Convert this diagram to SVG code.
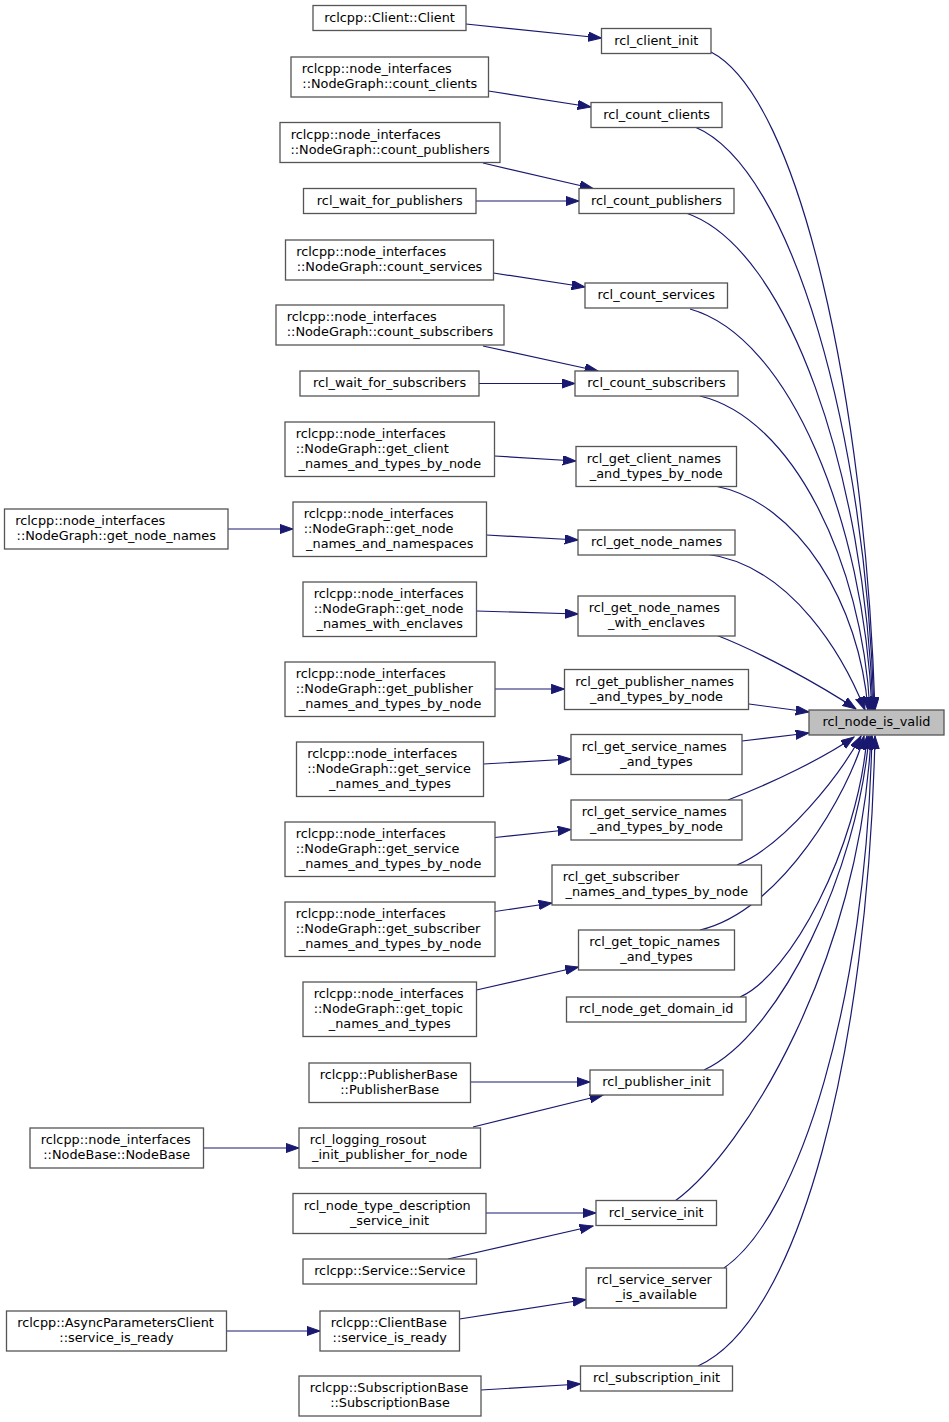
<svg xmlns="http://www.w3.org/2000/svg" width="949" height="1422" viewBox="0 0 949 1422">
<style>
.n rect{fill:#ffffff;stroke:#555555;stroke-width:1.3}
.t rect{fill:#bfbfbf;stroke:#555555;stroke-width:1.3}
text{font-family:"DejaVu Sans","Liberation Sans",sans-serif;font-size:12.85px;fill:#000000}
.c{text-anchor:middle}
.s{text-anchor:start}
.e path{fill:none;stroke:#191970;stroke-width:1.2;marker-end:url(#ah)}
</style>
<defs>
<marker id="ah" markerUnits="userSpaceOnUse" markerWidth="14" markerHeight="10" refX="13.3" refY="4.67" orient="auto">
<path d="M0,0 L13.3,4.67 L0,9.33 Z" fill="#191970" stroke="#191970" stroke-width="1"/>
</marker>
</defs>
<rect width="949" height="1422" fill="#ffffff"/>
<g class="e" id="edges">
<path d="M466,24 L601.5,38"/>
<path d="M488.5,91 L591,107"/>
<path d="M483,163 L593,188.5"/>
<path d="M476,201 L579,201"/>
<path d="M493.5,273 L585,287"/>
<path d="M483,346 L598,371"/>
<path d="M479,383.5 L575,383.5"/>
<path d="M494.5,456 L576,461"/>
<path d="M228,529 L293,529"/>
<path d="M486.5,535 L578,540"/>
<path d="M476.5,611 L578,614"/>
<path d="M495,689 L564.5,689"/>
<path d="M483.5,764 L571,759"/>
<path d="M495,837.5 L571,829.5"/>
<path d="M495,911.5 L552,903"/>
<path d="M476.5,990 L578.5,967"/>
<path d="M470.5,1082 L590,1082"/>
<path d="M473,1127 L603,1095"/>
<path d="M203.5,1148 L299,1148"/>
<path d="M486,1213 L596,1213"/>
<path d="M448,1259 L593,1226"/>
<path d="M459.5,1319 L586,1299.5"/>
<path d="M226.5,1331 L320,1331"/>
<path d="M481,1390 L580.5,1384"/>
<path d="M711,52 C800,98 865,400 875,710"/>
<path d="M695,127 C793,168 866,436 874,710"/>
<path d="M686,213 C789,248 865,476 873,710"/>
<path d="M690,309 C790,337 864,522 872,710"/>
<path d="M700,396 C793,418 862,562 870,710"/>
<path d="M715,486 C799,502 860,605 868,710"/>
<path d="M706,554 C793,565 845,660 865,710"/>
<path d="M716,635 C760,652 820,685 856,709"/>
<path d="M749,704 L809,712"/>
<path d="M742,741 L809,733"/>
<path d="M728,800 C775,782 825,757 854,737"/>
<path d="M737,865 C785,845 840,775 861,736"/>
<path d="M700,930 C782,911 850,790 864,736"/>
<path d="M740,997 C790,975 858,850 867,736"/>
<path d="M704,1070 C780,1035 858,870 869,736"/>
<path d="M675,1201 C745,1150 860,960 871,736"/>
<path d="M724,1268 C800,1215 866,1000 872,736"/>
<path d="M698,1366 C800,1320 868,1050 875,736"/>
</g>
<g transform="translate(0,-0.8)">
<g class="t" id="rcl_node_is_valid"><rect x="809" y="710.8" width="135" height="25"/><text class="c" x="876.5" y="727">rcl_node_is_valid</text></g>
</g>
<g class="n" id="rcl_client_init"><rect x="601.5" y="28.5" width="109.5" height="25"/><text class="c" x="656.25" y="44.7">rcl_client_init</text></g>
<g class="n" id="rcl_count_clients"><rect x="591" y="102.5" width="131" height="25"/><text class="c" x="656.5" y="118.7">rcl_count_clients</text></g>
<g class="n" id="rcl_count_publishers"><rect x="579" y="188.5" width="155" height="25"/><text class="c" x="656.5" y="204.7">rcl_count_publishers</text></g>
<g class="n" id="rcl_count_services"><rect x="585" y="283" width="142.5" height="25"/><text class="c" x="656.25" y="299.2">rcl_count_services</text></g>
<g class="n" id="rcl_count_subscribers"><rect x="575" y="371" width="163" height="25"/><text class="c" x="656.5" y="387.2">rcl_count_subscribers</text></g>
<g class="n" id="rcl_get_client_names_and_types_by_node"><rect x="576" y="446.5" width="160.5" height="40"/><text class="s" x="586.7" y="462.9">rcl_get_client_names</text><text class="c" x="656.25" y="477.5">_and_types_by_node</text></g>
<g class="n" id="rcl_get_node_names"><rect x="578" y="530" width="157" height="25"/><text class="c" x="656.5" y="546.2">rcl_get_node_names</text></g>
<g class="n" id="rcl_get_node_names_with_enclaves"><rect x="578" y="596" width="157" height="40"/><text class="s" x="588.7" y="612.4">rcl_get_node_names</text><text class="c" x="656.5" y="627">_with_enclaves</text></g>
<g class="n" id="rcl_get_publisher_names_and_types_by_node"><rect x="564.5" y="669.5" width="184" height="40"/><text class="s" x="575.2" y="685.9">rcl_get_publisher_names</text><text class="c" x="656.5" y="700.5">_and_types_by_node</text></g>
<g class="n" id="rcl_get_service_names_and_types"><rect x="571" y="734.5" width="171" height="40"/><text class="s" x="581.7" y="750.9">rcl_get_service_names</text><text class="c" x="656.5" y="765.5">_and_types</text></g>
<g class="n" id="rcl_get_service_names_and_types_by_node"><rect x="571" y="800" width="171" height="40"/><text class="s" x="581.7" y="816.4">rcl_get_service_names</text><text class="c" x="656.5" y="831">_and_types_by_node</text></g>
<g class="n" id="rcl_get_subscriber_names_and_types_by_node"><rect x="552" y="865" width="209.5" height="40"/><text class="s" x="562.7" y="881.4">rcl_get_subscriber</text><text class="c" x="656.75" y="896">_names_and_types_by_node</text></g>
<g class="n" id="rcl_get_topic_names_and_types"><rect x="578.5" y="930" width="156" height="40"/><text class="s" x="589.2" y="946.4">rcl_get_topic_names</text><text class="c" x="656.5" y="961">_and_types</text></g>
<g class="n" id="rcl_node_get_domain_id"><rect x="566.5" y="997" width="179.5" height="25"/><text class="c" x="656.25" y="1013.2">rcl_node_get_domain_id</text></g>
<g class="n" id="rcl_publisher_init"><rect x="590" y="1070" width="133" height="25"/><text class="c" x="656.5" y="1086.2">rcl_publisher_init</text></g>
<g class="n" id="rcl_service_init"><rect x="596" y="1200.5" width="120.5" height="25"/><text class="c" x="656.25" y="1216.7">rcl_service_init</text></g>
<g class="n" id="rcl_service_server_is_available"><rect x="586" y="1268" width="140.5" height="40"/><text class="s" x="596.7" y="1284.4">rcl_service_server</text><text class="c" x="656.25" y="1299">_is_available</text></g>
<g class="n" id="rcl_subscription_init"><rect x="580.5" y="1366" width="152" height="25"/><text class="c" x="656.5" y="1382.2">rcl_subscription_init</text></g>
<g class="n" id="Client_Client"><rect x="313" y="5.5" width="153" height="25"/><text class="c" x="389.5" y="21.7">rclcpp::Client::Client</text></g>
<g class="n" id="NodeGraph_count_clients"><rect x="291" y="57" width="197.5" height="40"/><text class="s" x="301.7" y="73.4">rclcpp::node_interfaces</text><text class="c" x="389.75" y="88">::NodeGraph::count_clients</text></g>
<g class="n" id="NodeGraph_count_publishers"><rect x="280" y="122.5" width="220" height="40"/><text class="s" x="290.7" y="138.9">rclcpp::node_interfaces</text><text class="c" x="390" y="153.5">::NodeGraph::count_publishers</text></g>
<g class="n" id="rcl_wait_for_publishers"><rect x="303.5" y="188.5" width="172.5" height="25"/><text class="c" x="389.75" y="204.7">rcl_wait_for_publishers</text></g>
<g class="n" id="NodeGraph_count_services"><rect x="285.5" y="240" width="208" height="40"/><text class="s" x="296.2" y="256.4">rclcpp::node_interfaces</text><text class="c" x="389.5" y="271">::NodeGraph::count_services</text></g>
<g class="n" id="NodeGraph_count_subscribers"><rect x="276" y="305" width="228" height="40"/><text class="s" x="286.7" y="321.4">rclcpp::node_interfaces</text><text class="c" x="390" y="336">::NodeGraph::count_subscribers</text></g>
<g class="n" id="rcl_wait_for_subscribers"><rect x="300" y="371" width="179" height="25"/><text class="c" x="389.5" y="387.2">rcl_wait_for_subscribers</text></g>
<g class="n" id="NodeGraph_get_client_names"><rect x="285" y="422" width="209.5" height="54.5"/><text class="s" x="295.7" y="438.3">rclcpp::node_interfaces</text><text class="s" x="295.7" y="452.95">::NodeGraph::get_client</text><text class="c" x="389.75" y="467.6">_names_and_types_by_node</text></g>
<g class="n" id="NodeGraph_get_node_names_and_namespaces"><rect x="293" y="502" width="193.5" height="54.5"/><text class="s" x="303.7" y="518.3">rclcpp::node_interfaces</text><text class="s" x="303.7" y="532.95">::NodeGraph::get_node</text><text class="c" x="389.75" y="547.6">_names_and_namespaces</text></g>
<g class="n" id="NodeGraph_get_node_names_with_enclaves"><rect x="303" y="582" width="173.5" height="54.5"/><text class="s" x="313.7" y="598.3">rclcpp::node_interfaces</text><text class="s" x="313.7" y="612.95">::NodeGraph::get_node</text><text class="c" x="389.75" y="627.6">_names_with_enclaves</text></g>
<g class="n" id="NodeGraph_get_publisher"><rect x="285" y="662" width="210" height="54.5"/><text class="s" x="295.7" y="678.3">rclcpp::node_interfaces</text><text class="s" x="295.7" y="692.95">::NodeGraph::get_publisher</text><text class="c" x="390" y="707.6">_names_and_types_by_node</text></g>
<g class="n" id="NodeGraph_get_service_names"><rect x="296.5" y="742" width="187" height="54.5"/><text class="s" x="307.2" y="758.3">rclcpp::node_interfaces</text><text class="s" x="307.2" y="772.95">::NodeGraph::get_service</text><text class="c" x="390" y="787.6">_names_and_types</text></g>
<g class="n" id="NodeGraph_get_service_by_node"><rect x="285" y="822" width="210" height="54.5"/><text class="s" x="295.7" y="838.3">rclcpp::node_interfaces</text><text class="s" x="295.7" y="852.95">::NodeGraph::get_service</text><text class="c" x="390" y="867.6">_names_and_types_by_node</text></g>
<g class="n" id="NodeGraph_get_subscriber"><rect x="285" y="902" width="210" height="54.5"/><text class="s" x="295.7" y="918.3">rclcpp::node_interfaces</text><text class="s" x="295.7" y="932.95">::NodeGraph::get_subscriber</text><text class="c" x="390" y="947.6">_names_and_types_by_node</text></g>
<g class="n" id="NodeGraph_get_topic"><rect x="303" y="982" width="173.5" height="54.5"/><text class="s" x="313.7" y="998.3">rclcpp::node_interfaces</text><text class="s" x="313.7" y="1012.95">::NodeGraph::get_topic</text><text class="c" x="389.75" y="1027.6">_names_and_types</text></g>
<g class="n" id="PublisherBase"><rect x="309" y="1063" width="161.5" height="39.5"/><text class="s" x="319.7" y="1079.2">rclcpp::PublisherBase</text><text class="c" x="389.75" y="1093.8">::PublisherBase</text></g>
<g class="n" id="rcl_logging_rosout_init"><rect x="299" y="1128" width="181.5" height="40"/><text class="s" x="309.7" y="1144.4">rcl_logging_rosout</text><text class="c" x="389.75" y="1159">_init_publisher_for_node</text></g>
<g class="n" id="rcl_node_type_description_service_init"><rect x="293" y="1193.5" width="193" height="40"/><text class="s" x="303.7" y="1209.9">rcl_node_type_description</text><text class="c" x="389.5" y="1224.5">_service_init</text></g>
<g class="n" id="Service_Service"><rect x="303" y="1259" width="173.5" height="25"/><text class="c" x="389.75" y="1275.2">rclcpp::Service::Service</text></g>
<g class="n" id="ClientBase_service_is_ready"><rect x="320" y="1311" width="139.5" height="40"/><text class="s" x="330.7" y="1327.4">rclcpp::ClientBase</text><text class="c" x="389.75" y="1342">::service_is_ready</text></g>
<g class="n" id="SubscriptionBase"><rect x="299" y="1376" width="182" height="40"/><text class="s" x="309.7" y="1392.4">rclcpp::SubscriptionBase</text><text class="c" x="390" y="1407">::SubscriptionBase</text></g>
<g class="n" id="NodeGraph_get_node_names"><rect x="4.5" y="509" width="223.5" height="40"/><text class="s" x="15.2" y="525.4">rclcpp::node_interfaces</text><text class="c" x="116.25" y="540">::NodeGraph::get_node_names</text></g>
<g class="n" id="NodeBase_NodeBase"><rect x="30" y="1128" width="173.5" height="40"/><text class="s" x="40.7" y="1144.4">rclcpp::node_interfaces</text><text class="c" x="116.75" y="1159">::NodeBase::NodeBase</text></g>
<g class="n" id="AsyncParametersClient_service_is_ready"><rect x="6.5" y="1311" width="220" height="40"/><text class="s" x="17.2" y="1327.4">rclcpp::AsyncParametersClient</text><text class="c" x="116.5" y="1342">::service_is_ready</text></g>
</svg>
